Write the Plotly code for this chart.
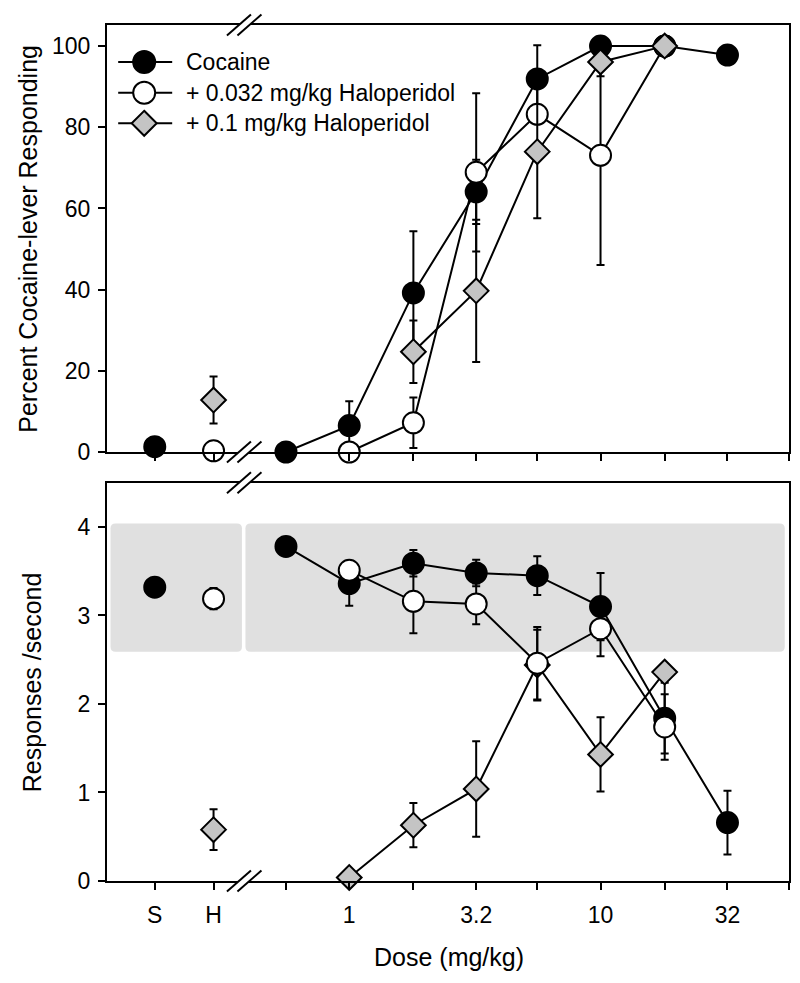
import math
import plotly.graph_objects as go

# ---------------- data ----------------
# Top panel: Percent cocaine-lever responding
top_coc_ctrl_x = ["S"]; top_coc_ctrl_y = [1.3]; top_coc_ctrl_e = [0]
top_coc_x = [0.56, 1, 1.8, 3.2, 5.6, 10, 18, 32]
top_coc_y = [0, 6.5, 39.2, 64.1, 91.9, 100, 100, 97.8]
top_coc_e = [0, 6.0, 15.2, 7.9, 8.3, 0, 0, 0]

top_lo_ctrl_x = ["H"]; top_lo_ctrl_y = [0.3]; top_lo_ctrl_e = [0]
top_lo_x = [1, 1.8, 3.2, 5.6, 10, 18]
top_lo_y = [0, 7.2, 68.9, 83.2, 73.1, 100]
top_lo_e = [0, 6.2, 19.5, 2, 27, 0]

top_hi_ctrl_x = ["H"]; top_hi_ctrl_y = [12.8]; top_hi_ctrl_e = [5.8]
top_hi_x = [1.8, 3.2, 5.6, 10, 18]
top_hi_y = [24.7, 39.7, 74.0, 96.1, 100]
top_hi_e = [7.7, 17.5, 16.4, 3.5, 0]

# Bottom panel: Responses / second
bot_coc_ctrl_x = ["S"]; bot_coc_ctrl_y = [3.32]; bot_coc_ctrl_e = [0]
bot_coc_x = [0.56, 1, 1.8, 3.2, 5.6, 10, 18, 32]
bot_coc_y = [3.78, 3.36, 3.59, 3.48, 3.45, 3.10, 1.84, 0.66]
bot_coc_e = [0, 0.25, 0.15, 0.15, 0.22, 0.38, 0.4, 0.36]

bot_lo_ctrl_x = ["H"]; bot_lo_ctrl_y = [3.19]; bot_lo_ctrl_e = [0.12]
bot_lo_x = [1, 1.8, 3.2, 5.6, 10, 18]
bot_lo_y = [3.51, 3.16, 3.13, 2.46, 2.85, 1.74]
bot_lo_e = [0.05, 0.36, 0.23, 0.41, 0.31, 0.37]

bot_hi_ctrl_x = ["H"]; bot_hi_ctrl_y = [0.58]; bot_hi_ctrl_e = [0.23]
bot_hi_x = [1, 1.8, 3.2, 5.6, 10, 18]
bot_hi_y = [0.04, 0.63, 1.04, 2.44, 1.43, 2.36]
bot_hi_e = [0, 0.25, 0.54, 0.4, 0.42, 0.05]

# shaded control range (bottom panel)
band_lo, band_hi = 2.59, 4.04

series_names = ["Cocaine", "+ 0.032 mg/kg Haloperidol", "+ 0.1 mg/kg Haloperidol"]
tick_doses = [0.56, 1, 1.8, 3.2, 5.6, 10, 18, 32, 56]
tick_labels = ["", "1", "", "3.2", "", "10", "", "32", ""]

# ---------------- layout helpers ----------------
FONT = "Liberation Sans, Arial, sans-serif"
S_POS, H_POS = -0.774, -0.54      # axis positions of the S and H control points
BREAK_POS = -0.418                 # position of axis break
XMIN, XMAX = -0.964, 1.75

def pos(v):
    if v == "S":
        return S_POS
    if v == "H":
        return H_POS
    return math.log10(v)

OFF = 8  # page body margin
W, H = 800 - OFF, 983 - OFF
P_L, P_R, P_T, P_B = 107, 791, 25, 881          # plot box in page pixels
ML, MR, MT, MB = P_L - OFF, (OFF + W) - P_R, P_T - OFF, (OFF + H) - P_B
PW, PH = P_R - P_L, P_B - P_T
top_dom = [(P_B - 452) / PH, 1.0]
bot_dom = [0.0, (P_B - 482.7) / PH]

styles = {
    "coc": dict(symbol="circle", size=21, color="black", line=dict(color="black", width=2)),
    "lo": dict(symbol="circle", size=21, color="white", line=dict(color="black", width=2)),
    "hi": dict(symbol="diamond", size=19, color="#c4c4c4", line=dict(color="black", width=2)),
}

fig = go.Figure()

def add(xs, ys, es, key, xa, ya, lines):
    fig.add_trace(go.Scatter(
        x=[pos(v) for v in xs], y=ys,
        mode="lines+markers" if lines else "markers",
        line=dict(color="black", width=2),
        marker=styles[key],
        error_y=dict(type="data", array=es, visible=True, color="black", thickness=2, width=4),
        xaxis=xa, yaxis=ya, showlegend=False, cliponaxis=False,
    ))

# top panel: cocaine, low, high (diamonds on top)
add(top_coc_ctrl_x, top_coc_ctrl_y, top_coc_ctrl_e, "coc", "x", "y", False)
add(top_coc_x, top_coc_y, top_coc_e, "coc", "x", "y", True)
add(top_lo_ctrl_x, top_lo_ctrl_y, top_lo_ctrl_e, "lo", "x", "y", False)
add(top_lo_x, top_lo_y, top_lo_e, "lo", "x", "y", True)
add(top_hi_ctrl_x, top_hi_ctrl_y, top_hi_ctrl_e, "hi", "x", "y", False)
add(top_hi_x, top_hi_y, top_hi_e, "hi", "x", "y", True)

# bottom panel: cocaine, high, low (open circles on top)
add(bot_coc_ctrl_x, bot_coc_ctrl_y, bot_coc_ctrl_e, "coc", "x2", "y2", False)
add(bot_coc_x, bot_coc_y, bot_coc_e, "coc", "x2", "y2", True)
add(bot_hi_ctrl_x, bot_hi_ctrl_y, bot_hi_ctrl_e, "hi", "x2", "y2", False)
add(bot_hi_x, bot_hi_y, bot_hi_e, "hi", "x2", "y2", True)
add(bot_lo_ctrl_x, bot_lo_ctrl_y, bot_lo_ctrl_e, "lo", "x2", "y2", False)
add(bot_lo_x, bot_lo_y, bot_lo_e, "lo", "x2", "y2", True)

tickvals = [S_POS, H_POS] + [math.log10(d) for d in tick_doses]
ticktext = ["S", "H"] + tick_labels

axis_common = dict(showline=True, linecolor="black", linewidth=2, mirror=True,
                   ticks="outside", ticklen=7, tickwidth=2, tickcolor="black",
                   showgrid=False, zeroline=False,
                   tickfont=dict(family=FONT, size=23, color="black"))

fig.update_layout(
    width=W, height=H,
    margin=dict(l=ML, r=MR, t=MT, b=MB),
    paper_bgcolor="white", plot_bgcolor="white",
    font=dict(family=FONT, size=23, color="black"),
    xaxis=dict(domain=[0, 1], range=[XMIN, XMAX], anchor="y", tickvals=tickvals,
               ticktext=ticktext, showticklabels=False, **axis_common),
    yaxis=dict(domain=top_dom, range=[0, 105.2], anchor="x", tickvals=[0, 20, 40, 60, 80, 100],
               ticklabelstandoff=3, **axis_common),
    xaxis2=dict(domain=[0, 1], range=[XMIN, XMAX], anchor="y2", tickvals=tickvals,
                ticktext=ticktext, ticklabelstandoff=5, **axis_common),
    yaxis2=dict(domain=bot_dom, range=[0, 4.5], anchor="x2", tickvals=[0, 1, 2, 3, 4],
                ticklabelstandoff=3, **axis_common),
)

shapes = []

# shaded rounded bands in bottom panel
def rounded_rect(x0, x1, y0, y1, rx=0.02, ry=0.056):
    return (f"M{x0+rx},{y0} L{x1-rx},{y0} Q{x1},{y0} {x1},{y0+ry} "
            f"L{x1},{y1-ry} Q{x1},{y1} {x1-rx},{y1} L{x0+rx},{y1} "
            f"Q{x0},{y1} {x0},{y1-ry} L{x0},{y0+ry} Q{x0},{y0} {x0+rx},{y0} Z")

shapes.append(dict(type="path", xref="x2", yref="y2", layer="below",
                   path=rounded_rect(-0.950, BREAK_POS - 0.009, band_lo, band_hi),
                   fillcolor="#e0e0e0", line=dict(width=0)))
shapes.append(dict(type="path", xref="x2", yref="y2", layer="below",
                   path=rounded_rect(BREAK_POS + 0.005, 1.733, band_lo, band_hi),
                   fillcolor="#e0e0e0", line=dict(width=0)))

# axis break marks
xb = (BREAK_POS - XMIN) / (XMAX - XMIN)
for yb in [top_dom[1], top_dom[0], bot_dom[1], bot_dom[0]]:
    shapes.append(dict(type="path", xref="paper", yref="paper", xsizemode="pixel",
                       ysizemode="pixel", xanchor=xb, yanchor=yb, layer="above",
                       path="M-17,-10.5 L7,10.5 L17.5,10.5 L-6.5,-10.5 Z",
                       fillcolor="white", line=dict(width=0)))
    for dx in (-5.25, 5.25):
        shapes.append(dict(type="path", xref="paper", yref="paper", xsizemode="pixel",
                           ysizemode="pixel", xanchor=xb, yanchor=yb, layer="above",
                           path=f"M{dx-12},-10.5 L{dx+12},10.5",
                           line=dict(color="black", width=2)))

# manual legend
def px_to_paper(px, py):
    return (px - P_L) / PW, (P_B - py) / PH

leg_rows = [62, 92.7, 123.3]
annotations = []
for name, key, row in zip(series_names, ["coc", "lo", "hi"], leg_rows):
    xa, ya = px_to_paper(144.3, row)
    shapes.append(dict(type="path", xref="paper", yref="paper", xsizemode="pixel",
                       ysizemode="pixel", xanchor=xa, yanchor=ya, layer="above",
                       path="M-26,0 L28,0", line=dict(color="black", width=2)))
    st = styles[key]
    if key == "hi":
        shapes.append(dict(type="path", xref="paper", yref="paper", xsizemode="pixel",
                           ysizemode="pixel", xanchor=xa, yanchor=ya, layer="above",
                           path="M0,12.5 L12.5,0 L0,-12.5 L-12.5,0 Z",
                           fillcolor=st["color"], line=dict(color="black", width=2)))
    else:
        shapes.append(dict(type="circle", xref="paper", yref="paper", xsizemode="pixel",
                           ysizemode="pixel", xanchor=xa, yanchor=ya, layer="above",
                           x0=-11, x1=11, y0=-11, y1=11,
                           fillcolor=st["color"], line=dict(color="black", width=2)))
    tx, ty = px_to_paper(184.3, row)
    annotations.append(dict(text=name, xref="paper", yref="paper", x=tx, y=ty,
                            xanchor="left", yanchor="middle", showarrow=False,
                            font=dict(family=FONT, size=23, color="black")))

# axis titles
for text, px, py in [("Percent Cocaine-lever Responding", 27, 238.5),
                     ("Responses /second", 32, 682)]:
    x, y = px_to_paper(px, py)
    annotations.append(dict(text=text, xref="paper", yref="paper", x=x, y=y,
                            xanchor="center", yanchor="middle", textangle=-90,
                            showarrow=False, font=dict(family=FONT, size=25, color="black")))
x, y = px_to_paper(450, 957)
annotations.append(dict(text="Dose (mg/kg)", xref="paper", yref="paper", x=x, y=y,
                        xanchor="center", yanchor="middle", showarrow=False,
                        font=dict(family=FONT, size=25, color="black")))

fig.update_layout(shapes=shapes, annotations=annotations)
fig.write_html("out.html")
